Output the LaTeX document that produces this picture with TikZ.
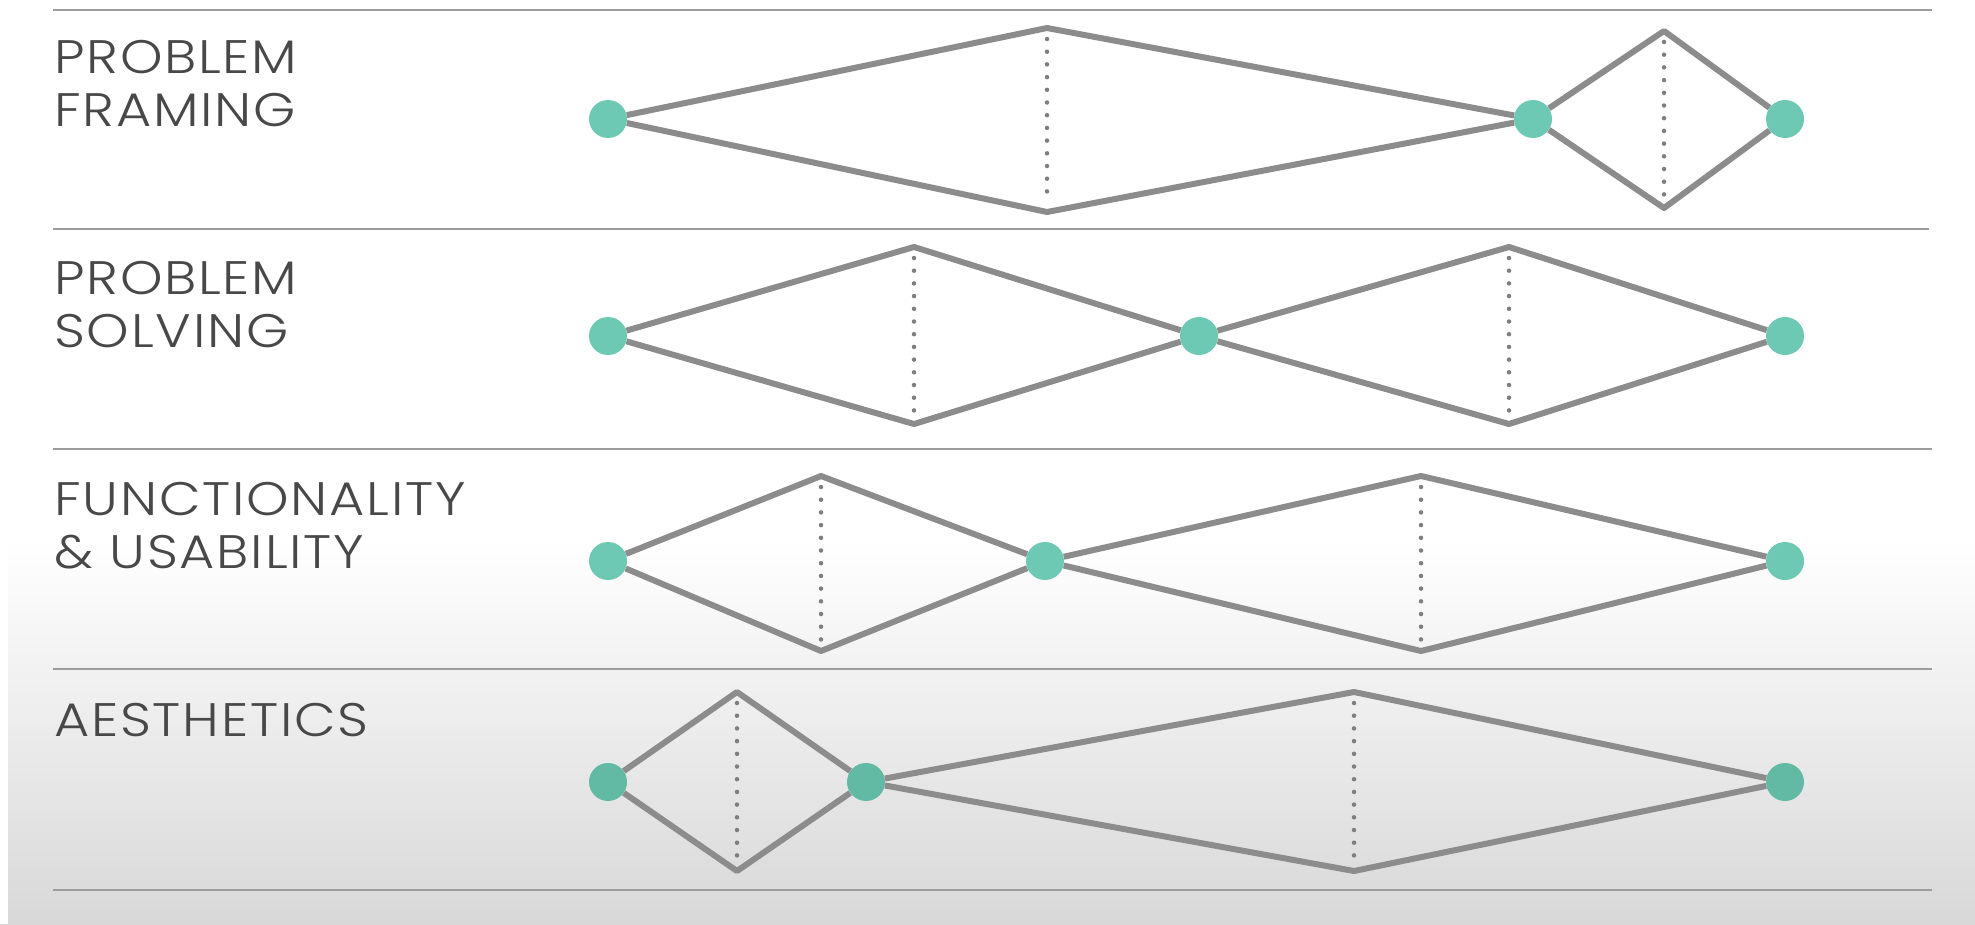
\documentclass[tikz,border=0pt]{standalone}
\usepackage{fontspec}
\setmainfont{Poppins}[UprightFont={* Light},LetterSpace=3.3]
\definecolor{teala}{HTML}{6DC9B4}
\definecolor{tealb}{HTML}{62BAA4}
\definecolor{linegray}{HTML}{8C8C8C}
\definecolor{dotgray}{HTML}{7E7E7E}
\definecolor{divgray}{HTML}{9C9C9C}
\definecolor{textgray}{HTML}{484848}
\definecolor{bgbot}{HTML}{D8D8D8}
\begin{document}
\begin{tikzpicture}[x=1pt,y=-1pt,
  stage/.style={circle,fill=teala,minimum size=38pt,inner sep=0pt},
  stagelow/.style={stage,fill=tealb},
  edge/.style={draw=linegray,line width=6pt,line join=round},
  axisline/.style={draw=dotgray,line width=4.5pt,line cap=round,dash pattern=on 0pt off 12.7pt,shorten <=11pt,shorten >=11pt},
  divider/.style={draw=divgray,line width=2.5pt},
  lbl/.style={text=textgray,anchor=north west,inner sep=0pt,align=left,xscale=1.15,transform shape,font=\fontsize{47}{53}\selectfont}]
\useasboundingbox (0,0) rectangle (1975,924);
\fill[white] (0,0) rectangle (1975,924);
\shade[top color=white,bottom color=bgbot] (0,540) rectangle (1975,924);
\fill[white] (0,540) rectangle (8,924);
% dividers
\coordinate (d0l) at (53,10);  \coordinate (d0r) at (1932,10);
\coordinate (d1l) at (53,229); \coordinate (d1r) at (1929,229);
\coordinate (d2l) at (53,449); \coordinate (d2r) at (1932,449);
\coordinate (d3l) at (53,669); \coordinate (d3r) at (1932,669);
\coordinate (d4l) at (53,890); \coordinate (d4r) at (1932,890);
\foreach \i in {0,...,4} {\draw[divider] (d\i l) -- (d\i r);}
% labels
\node[lbl] (l1) at (54,40) {PROBLEM\\FRAMING};
\node[lbl] (l2) at (54,261) {PROBLEM\\SOLVING};
\node[lbl] (l3) at (54,482) {FUNCTIONALITY\\\& USABILITY};
\node[lbl] (l4) at (54,703) {AESTHETICS};
% row 1
\node[stage] (r1a) at (608,119) {};
\node[stage] (r1b) at (1533,119) {};
\node[stage] (r1c) at (1785,119) {};
\coordinate (r1t1) at (1047,28);  \coordinate (r1u1) at (1047,212);
\coordinate (r1t2) at (1664,31);  \coordinate (r1u2) at (1664,208);
% row 2
\node[stage] (r2a) at (608,336) {};
\node[stage] (r2b) at (1199,336) {};
\node[stage] (r2c) at (1785,336) {};
\coordinate (r2t1) at (914,247);  \coordinate (r2u1) at (914,424);
\coordinate (r2t2) at (1509,247); \coordinate (r2u2) at (1509,424);
% row 3
\node[stage] (r3a) at (608,561) {};
\node[stage] (r3b) at (1045,561) {};
\node[stage] (r3c) at (1785,561) {};
\coordinate (r3t1) at (821,476);  \coordinate (r3u1) at (821,651);
\coordinate (r3t2) at (1421,476); \coordinate (r3u2) at (1421,651);
% row 4
\node[stagelow] (r4a) at (608,782) {};
\node[stagelow] (r4b) at (866,782) {};
\node[stagelow] (r4c) at (1785,782) {};
\coordinate (r4t1) at (737,692);  \coordinate (r4u1) at (737,871);
\coordinate (r4t2) at (1354,692); \coordinate (r4u2) at (1354,871);
\foreach \r in {1,...,4} {
  \draw[edge] (r\r a) -- (r\r t1) -- (r\r b);
  \draw[edge] (r\r a) -- (r\r u1) -- (r\r b);
  \draw[edge] (r\r b) -- (r\r t2) -- (r\r c);
  \draw[edge] (r\r b) -- (r\r u2) -- (r\r c);
  \draw[axisline] (r\r t1) -- (r\r u1);
  \draw[axisline] (r\r t2) -- (r\r u2);
}
\end{tikzpicture}
\end{document}
